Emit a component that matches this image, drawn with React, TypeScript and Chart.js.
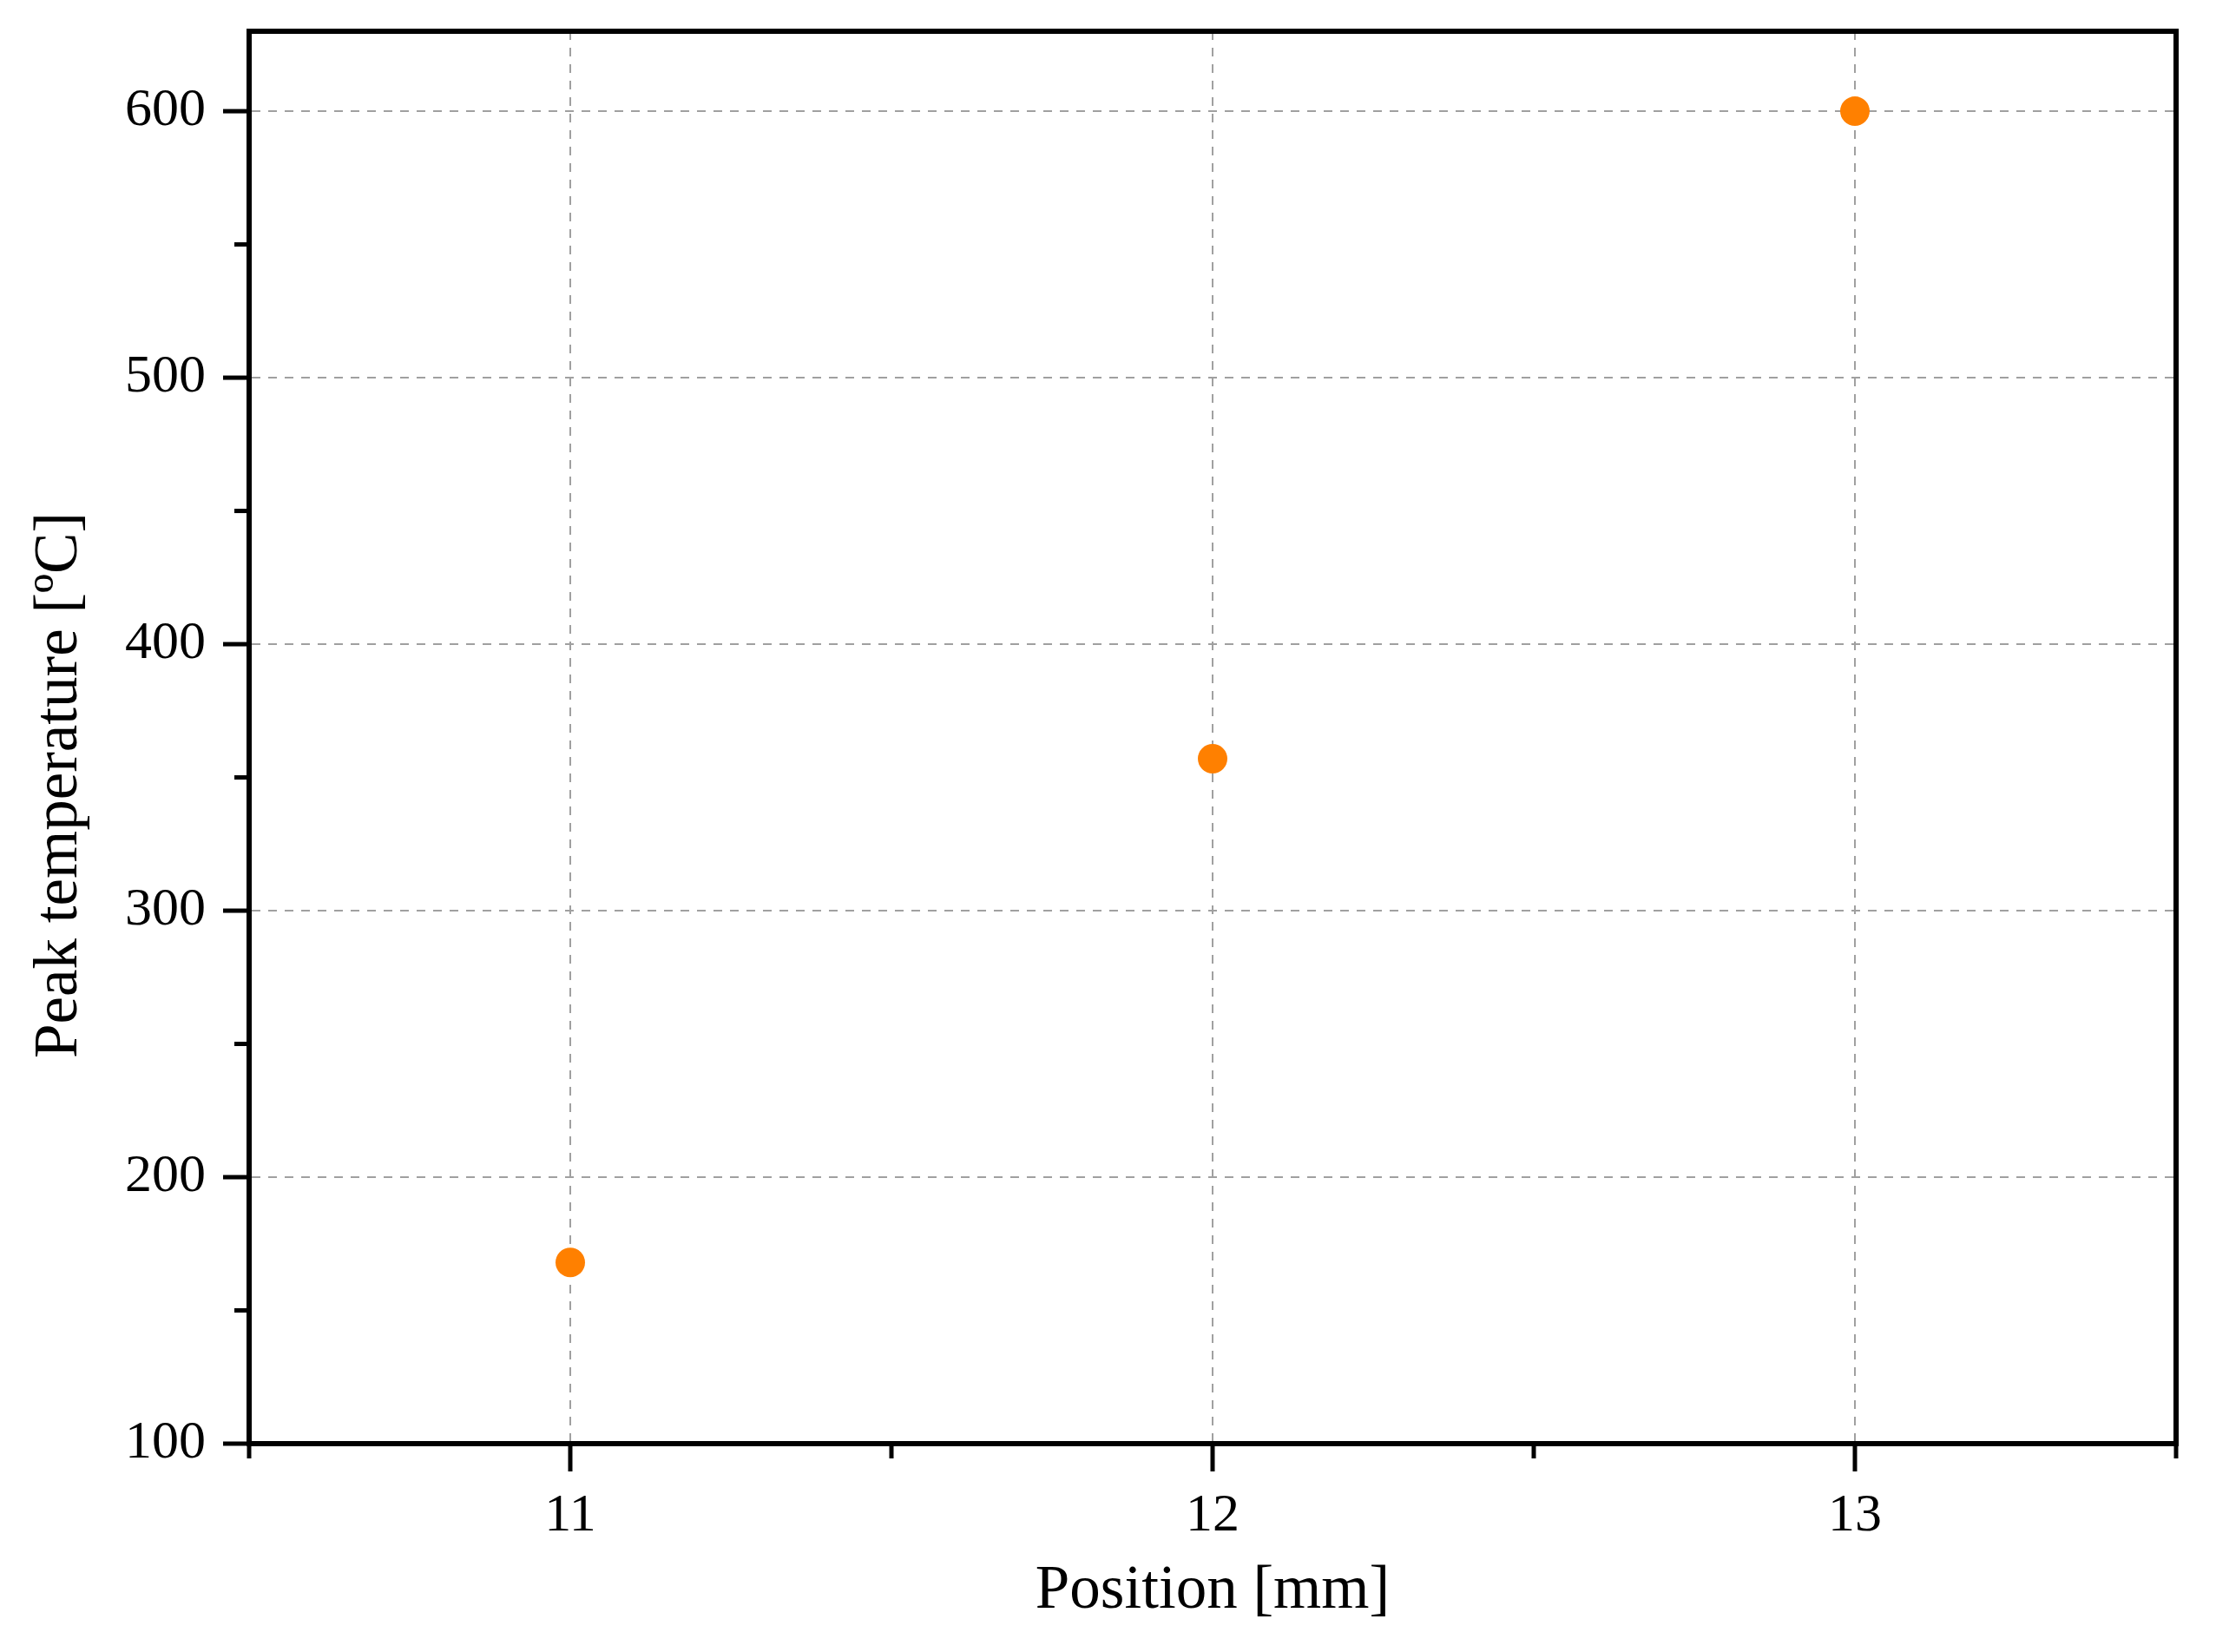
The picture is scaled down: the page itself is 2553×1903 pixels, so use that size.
import { useEffect, useRef } from "react";
import Chart from "chart.js/auto";

// data
const positions = [11, 12, 13];
const peakTemps = [168, 357, 600];
const xLabelTicks = [11, 12, 13];
const yLabelTicks = [100, 200, 300, 400, 500, 600];
const xTitle = "Position [mm]";
const yTitle = "Peak temperature [ºC]";

const FONT = '"Liberation Serif", "DejaVu Serif", serif';
const GRID = "#a0a0a0";
const NONE = "rgba(0,0,0,0)";

const isInt = (v: number) => Math.abs(v - Math.round(v)) < 1e-6;

// top/right frame, outward tick marks and axis titles
const frameAndTitles = {
  id: "frameAndTitles",
  afterDraw(chart: any) {
    const { ctx, chartArea, scales } = chart;
    const { left, right, top, bottom } = chartArea;
    ctx.save();
    ctx.strokeStyle = "#000";
    ctx.lineWidth = 6;
    ctx.lineCap = "square";
    ctx.beginPath();
    ctx.moveTo(left, top);
    ctx.lineTo(right, top);
    ctx.lineTo(right, bottom);
    ctx.stroke();

    ctx.lineCap = "butt";
    ctx.lineWidth = 5;
    scales.y.ticks.forEach((t: any) => {
      if (Math.round(t.value) % 50 !== 0) return;
      const y = scales.y.getPixelForValue(t.value);
      const len = Math.round(t.value) % 100 === 0 ? 30 : 17;
      ctx.beginPath();
      ctx.moveTo(left, y);
      ctx.lineTo(left - len, y);
      ctx.stroke();
    });
    scales.x.ticks.forEach((t: any) => {
      const x = scales.x.getPixelForValue(t.value);
      const len = isInt(t.value) ? 32 : 17;
      ctx.beginPath();
      ctx.moveTo(x, bottom);
      ctx.lineTo(x, bottom + len);
      ctx.stroke();
    });

    ctx.fillStyle = "#000";
    ctx.font = `71px ${FONT}`;
    ctx.textAlign = "center";
    ctx.textBaseline = "alphabetic";
    ctx.fillText(xTitle, (left + right) / 2, bottom + 189);
    ctx.translate(left - 199, (top + bottom) / 2 + 55);
    ctx.rotate(-Math.PI / 2);
    ctx.fillText(yTitle, 0, 0);
    ctx.restore();
  },
};

function PeakTemperatureChart() {
  const chartRef = useRef<HTMLCanvasElement>(null);
  const chartInstance = useRef<Chart | null>(null);

  useEffect(() => {
    if (!chartRef.current) return;
    if (chartInstance.current) chartInstance.current.destroy();

    chartInstance.current = new Chart(chartRef.current, {
      type: "scatter",
      data: {
        datasets: [
          {
            label: "Peak temperature",
            data: positions.map((x, i) => ({ x, y: peakTemps[i] })),
            backgroundColor: "#ff8000",
            borderWidth: 0,
            pointRadius: 17,
            pointHoverRadius: 17,
          },
        ],
      },
      options: {
        responsive: false,
        animation: false,
        devicePixelRatio: 1,
        layout: { padding: { top: 36, right: 46, left: 0, bottom: 0 } },
        plugins: {
          legend: { display: false },
          tooltip: { enabled: false },
        },
        scales: {
          x: {
            type: "linear",
            min: 10.5,
            max: 13.5,
            afterFit: (scale: any) => {
              scale.height = 240;
              scale.paddingLeft = 0;
              scale.paddingRight = 0;
            },
            border: { display: true, color: "#000", width: 6, dash: [10, 9] },
            grid: {
              drawTicks: false,
              lineWidth: 2,
              color: (c: any) =>
                c.tick && xLabelTicks.some((v) => Math.abs(v - c.tick.value) < 1e-6) ? GRID : NONE,
            },
            ticks: {
              stepSize: 0.5,
              autoSkip: false,
              maxRotation: 0,
              padding: 47,
              color: "#000",
              font: { family: FONT, size: 62 },
              callback: (v: any) => {
                const n = Number(v);
                return isInt(n) && xLabelTicks.includes(Math.round(n)) ? String(Math.round(n)) : "";
              },
            },
          },
          y: {
            type: "linear",
            min: 100,
            max: 630,
            afterFit: (scale: any) => {
              scale.width = 287;
              scale.paddingTop = 0;
              scale.paddingBottom = 0;
            },
            border: { display: true, color: "#000", width: 6, dash: [10, 9] },
            grid: {
              drawTicks: false,
              lineWidth: 2,
              color: (c: any) =>
                c.tick && c.tick.value > 100 && yLabelTicks.includes(c.tick.value) ? GRID : NONE,
            },
            ticks: {
              stepSize: 50,
              autoSkip: false,
              padding: 50,
              color: "#000",
              font: { family: FONT, size: 62 },
              callback: (v: any) => (yLabelTicks.includes(Number(v)) ? String(v) : ""),
            },
          },
        },
      },
      plugins: [frameAndTitles],
    });

    return () => {
      if (chartInstance.current) {
        chartInstance.current.destroy();
        chartInstance.current = null;
      }
    };
  }, []);

  return (
    <canvas
      ref={chartRef}
      width={2553}
      height={1903}
      style={{ position: "absolute", left: 0, top: 0, width: 2553, height: 1903, background: "#fff" }}
    />
  );
}

export default function App() {
  return <PeakTemperatureChart />;
}
